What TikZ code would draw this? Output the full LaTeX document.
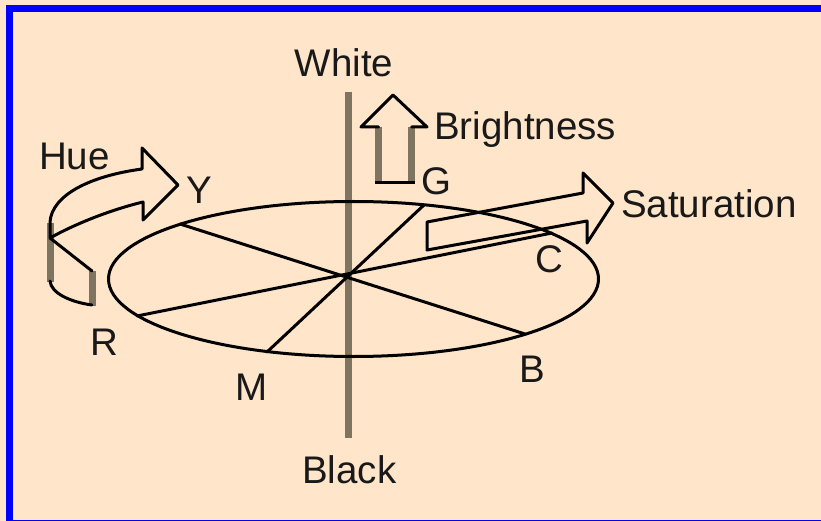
\documentclass[tikz,border=0pt]{standalone}
\usepackage{fontspec}
\setmainfont{Liberation Sans}

\definecolor{paper}{RGB}{255,229,202}
\definecolor{frameblue}{RGB}{0,0,255}
\definecolor{shadegray}{RGB}{127,116,96}

\begin{document}
\begin{tikzpicture}[
  x=1pt,y=-1pt,
  line cap=round,line join=round,
  rim/.style={line width=3pt,black},
  shade/.style={line width=7pt,shadegray,line cap=butt},
  lbl/.style={font=\fontsize{38.5}{40}\selectfont,text=black!90,inner sep=0pt,anchor=base west}
]
  % Paper and frame
  \useasboundingbox (0,0) rectangle (821,521);
  \fill[paper] (-2,-2) rectangle (823,523);
  \fill[frameblue] (6,5) rectangle (823,12);
  \fill[frameblue] (6,5) rectangle (13,523);
  \fill[frameblue] (6,519.6) rectangle (823,523);

  % Hue points on the rim
  \coordinate (Y) at (180,224);
  \coordinate (B) at (525,334);
  \coordinate (R) at (137,316);
  \coordinate (C) at (552,233);
  \coordinate (G) at (424,205);
  \coordinate (M) at (267,352);

  % Grey axis
  \coordinate (top) at (348.5,92);
  \coordinate (bottom) at (348.5,438);
  \draw[shade] (top) -- (bottom);

  % Colour disc
  \draw[rim] (353.5,279) ellipse [x radius=245, y radius=77.5];
  \foreach \a/\b in {Y/B,R/C,G/M}{
    \draw[rim] (\a) -- (\b);
  }

  % Brightness arrow
  \draw[shade] (378.5,127) -- (378.5,182.5);
  \draw[shade] (411.5,127) -- (411.5,182.5);
  \draw[rim] (378.5,127) -- (361,127) -- (393,95) -- (427,127) -- (411.5,127);
  \draw[rim,line cap=butt] (375,182.5) -- (415,182.5);

  % Saturation arrow
  \draw[rim] (427,222) -- (583,193) -- (583,173) -- (613,203)
    -- (587,243) -- (587,221) -- (427,250) -- cycle;

  % Hue ribbon
  \coordinate (fold) at (50,238);
  \draw[shade] (50,223) -- (50,282);
  \draw[shade] (92,271) -- (92,306);
  \draw[rim] (fold) -- (50,222) .. controls (52,195) and (90,176) .. (142,169)
    -- (142,148) -- (178,185) -- (143,220) -- (143,202)
    .. controls (110,210) and (75,224) .. (fold) -- (92,271);
  \draw[rim] (92,305) .. controls (70,302) and (51,293) .. (50,281);

  % Labels
  \foreach \n/\x/\y in {Y/186/204,G/421/195,C/535/272,R/90/355,M/235/400,B/519/382}{
    \node[lbl] (l\n) at (\x,\y) {\n};
  }
  \node[lbl] (white) at (294.5,77) {White};
  \node[lbl] (black) at (302,483) {Black};
  \node[lbl] (bright) at (434,140) {Brightness};
  \node[lbl] (sat) at (621,218) {Saturation};
  \node[lbl] (hue) at (39,170) {Hue};
\end{tikzpicture}
\end{document}
